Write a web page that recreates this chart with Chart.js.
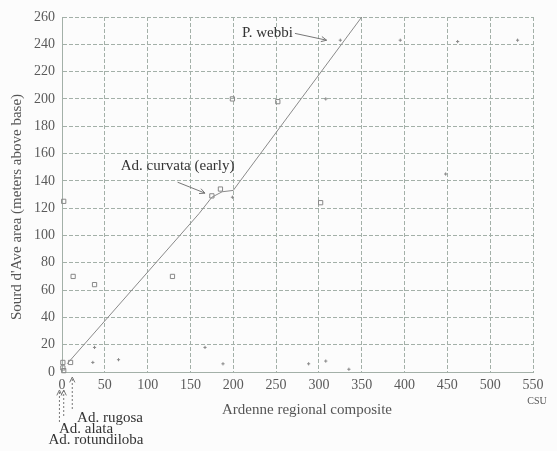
<!DOCTYPE html>
<html>
<head>
<meta charset="utf-8">
<script src="https://cdn.jsdelivr.net/npm/chart.js@4.4.1/dist/chart.umd.min.js"></script>
<style>
  html, body { margin: 0; padding: 0; background: #fcfcfc; }
  #wrap { width: 557px; height: 451px; position: relative; }
</style>
</head>
<body>
<div id="wrap"><canvas id="c" width="557" height="451"></canvas></div>
<script>
// Open squares
const squareX = [2, 1, 10, 1, 2, 13, 38, 129, 175, 185, 199, 252, 302];
const squareY = [125, 7, 7, 3, 1, 70, 64, 70, 129, 134, 200, 198, 124];
// Small cross marks
const crossX = [38, 36, 66, 167, 188, 199, 288, 308, 335, 308, 448, 325, 395, 462, 532];
const crossY = [18, 7, 9, 18, 6, 128, 6, 8, 2, 200, 145, 243, 243, 242, 243];
// Line of correlation
const lineX = [6, 160, 175, 187, 200, 207, 350];
const lineY = [6, 116, 128, 132, 133, 139, 260];
// Axis ranges
const xRange = [0, 550, 50];
const yRange = [0, 260, 20];
// Taxon labels
const upperLabels = ['Ad. curvata (early)', 'P. webbi'];
const lowerLabels = ['Ad. rugosa', 'Ad. alata', 'Ad. rotundiloba'];

const pts = (xs, ys) => xs.map((x, i) => ({ x, y: ys[i] }));

const gridColor = '#a3b0a8';
const tickColor = '#5a5a5a';
const serif = '"Liberation Serif", "Times New Roman", serif';

function arrow(ctx, x1, y1, x2, y2, dash) {
  ctx.save();
  ctx.strokeStyle = '#777';
  ctx.lineWidth = 1;
  ctx.setLineDash(dash || []);
  ctx.beginPath();
  ctx.moveTo(x1, y1);
  ctx.lineTo(x2, y2);
  ctx.stroke();
  ctx.setLineDash([]);
  const a = Math.atan2(y2 - y1, x2 - x1);
  const h = 6;
  ctx.beginPath();
  ctx.moveTo(x2 - h * Math.cos(a - 0.45), y2 - h * Math.sin(a - 0.45));
  ctx.lineTo(x2, y2);
  ctx.lineTo(x2 - h * Math.cos(a + 0.45), y2 - h * Math.sin(a + 0.45));
  ctx.stroke();
  ctx.restore();
}

const annotations = {
  id: 'annotations',
  afterDraw(chart) {
    const ctx = chart.ctx;
    const xs = chart.scales.x, ys = chart.scales.y;
    const px = v => xs.getPixelForValue(v);
    const py = v => ys.getPixelForValue(v);
    ctx.save();
    ctx.textAlign = 'center';
    ctx.textBaseline = 'middle';

    // Labels inside the plot
    ctx.fillStyle = '#333';
    ctx.font = '15px ' + serif;
    ctx.fillText(upperLabels[0], px(135), py(151));
    arrow(ctx, px(135), py(139), px(167), py(131));
    ctx.fillText(upperLabels[1], px(240), py(248));
    arrow(ctx, px(272), py(248), px(309), py(243));

    // Axis titles
    ctx.fillStyle = '#555';
    ctx.font = '15px ' + serif;
    ctx.fillText('Ardenne regional composite', 307, 410);
    ctx.font = '10px ' + serif;
    ctx.fillText('CSU', 537, 401);
    ctx.save();
    ctx.translate(17, 207);
    ctx.rotate(-Math.PI / 2);
    ctx.font = '15px ' + serif;
    ctx.fillText("Sourd d'Ave area (meters above base)", 0, 0);
    ctx.restore();

    // Taxa near the origin, below the axis
    const base = ys.bottom;
    arrow(ctx, px(-3), base + 50, px(-3), base + 18, [2, 2]);
    arrow(ctx, px(2), base + 44, px(2), base + 18, [2, 2]);
    arrow(ctx, px(12), base + 37, px(12), base + 5, [2, 2]);
    ctx.fillStyle = '#333';
    ctx.font = '15px ' + serif;
    ctx.fillText(lowerLabels[0], 110, 418);
    ctx.fillText(lowerLabels[1], 86, 429);
    ctx.fillText(lowerLabels[2], 96, 440);
    ctx.restore();
  }
};

const bg = {
  id: 'bg',
  beforeDraw(chart) {
    const ctx = chart.ctx;
    ctx.save();
    ctx.fillStyle = '#fcfcfc';
    ctx.fillRect(0, 0, chart.width, chart.height);
    ctx.restore();
  }
};

new Chart(document.getElementById('c'), {
  type: 'scatter',
  data: {
    datasets: [
      {
        type: 'line',
        data: pts(lineX, lineY),
        borderColor: '#8a8a8a',
        borderWidth: 1,
        pointRadius: 0,
        fill: false,
        tension: 0
      },
      {
        data: pts(squareX, squareY),
        pointStyle: 'rect',
        pointRadius: 3,
        borderColor: '#888',
        backgroundColor: 'rgba(0,0,0,0)',
        borderWidth: 1,
        clip: false
      },
      {
        data: pts(crossX, crossY),
        pointStyle: 'cross',
        pointRadius: 1.6,
        borderColor: '#888',
        borderWidth: 1,
        clip: false
      }
    ]
  },
  options: {
    responsive: false,
    animation: false,
    events: [],
    layout: { padding: { left: 0, top: 17, right: 24, bottom: 0 } },
    plugins: { legend: { display: false }, tooltip: { enabled: false } },
    scales: {
      x: {
        type: 'linear',
        min: xRange[0], max: xRange[1],
        afterFit(s) { s.height = 79; },
        ticks: { stepSize: xRange[2], color: tickColor, padding: 5, font: { family: serif, size: 14 } },
        grid: { color: gridColor, drawTicks: false, lineWidth: 1 },
        border: { color: gridColor, dash: [4, 2] }
      },
      y: {
        type: 'linear',
        min: yRange[0], max: yRange[1],
        afterFit(s) { s.width = 62; },
        ticks: { stepSize: yRange[2], color: tickColor, padding: 7, font: { family: serif, size: 14 } },
        grid: { color: gridColor, drawTicks: false, lineWidth: 1 },
        border: { color: gridColor, dash: [4, 2] }
      }
    }
  },
  plugins: [bg, annotations]
});
</script>
</body>
</html>
